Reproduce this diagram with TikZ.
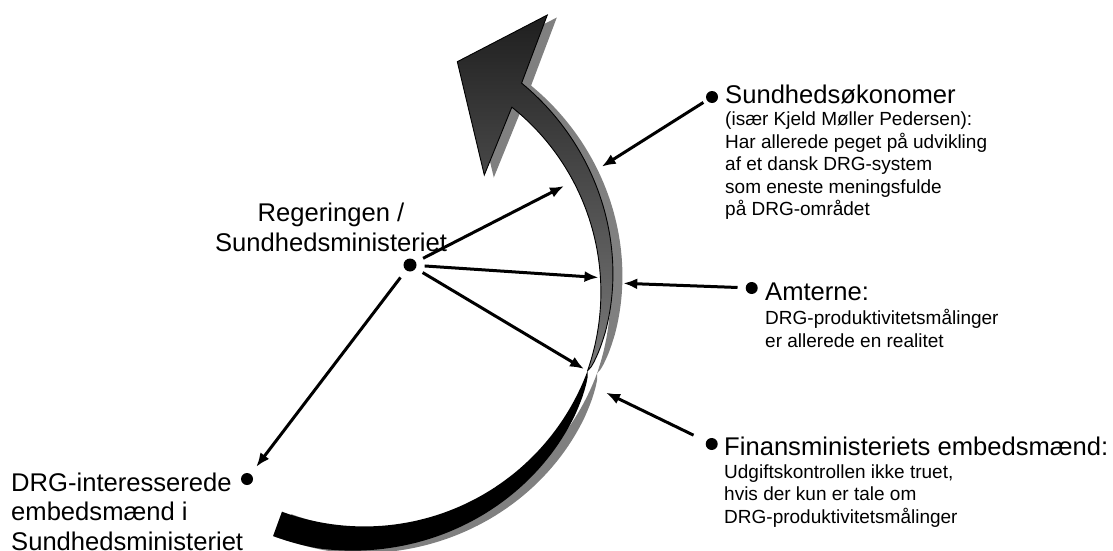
\documentclass[tikz,border=0pt]{standalone}
\usepackage{fontspec}
\setmainfont{Liberation Sans}
\usetikzlibrary{arrows.meta}

\begin{document}
\begin{tikzpicture}[x=1pt, y=-1pt,
    big/.style={font=\fontsize{25.6}{29.7}\selectfont, inner sep=0pt, align=left},
    small/.style={font=\fontsize{19}{22.5}\selectfont, inner sep=0pt, align=left},
    dot/.style={circle, fill=black, inner sep=0pt, minimum size=12pt},
    pil/.style={line width=3pt, -{Latex[length=14pt,width=11pt]}},
    forside/.style={draw=black, line width=0.9pt, top color=black!88, bottom color=black!52},
  ]
    \useasboundingbox (0,0) rectangle (1113,551);
    % ── buet pil: skygge ────────────────────────────────
    \begin{scope}[shift={(372.5,291.5)}]
        \fill[black!50] (-50.7:235) -- (121.3,-114) -- (94.3,-227.3) -- (184.3,-274) -- (-52.4:260)
            -- plot[domain=-52.4:20, samples=60] (\x:{235+4*(\x+50.7)/70.7+25*((20.001-\x)/72.4)^0.6})
            -- plot[domain=20:-50.7, samples=60] (\x:{235+4*(\x+50.7)/70.7}) -- cycle;
        \fill[black!50] plot[domain=20:110, samples=60] (\x:{239-2*(\x-20)/90})
            -- plot[domain=110:20, samples=60] (\x:{239-2*(\x-20)/90+26*min(1,(\x-19.999)/80)^0.6}) -- cycle;
    \end{scope}
    % ── buet pil: bagside og forside ────────────────────
    \begin{scope}[shift={(363,289)}]
        \fill[black] plot[domain=20:110, samples=60] (\x:{239-2*(\x-20)/90})
            -- plot[domain=110:20, samples=60] (\x:{239-2*(\x-20)/90+26*min(1,(\x-19.999)/80)^0.6}) -- cycle;
        \path[forside] (-50.7:235) -- (121.3,-114) -- (94.3,-227.3) -- (184.3,-274) -- (-52.4:260)
            -- plot[domain=-52.4:20, samples=60] (\x:{235+4*(\x+50.7)/70.7+25*((20.001-\x)/72.4)^0.6})
            -- plot[domain=20:-50.7, samples=60] (\x:{235+4*(\x+50.7)/70.7}) -- cycle;
    \end{scope}
    % ── aktører (base = sidste linjes grundlinje) ────────
    \node[dot, minimum size=13pt] (reg) at (410,265) {};
    \node[big, align=center, anchor=base] (regt) at (331,251) {Regeringen /\\Sundhedsministeriet};
    \node[dot] (drg) at (247,479) {};
    \node[big, anchor=base west] (drgt) at (11,550.4) {DRG-interesserede\\embedsmænd i\\Sundhedsministeriet};
    \node[dot] (sok) at (712,97) {};
    \node[big, anchor=base west] (sokt) at (725,103) {Sundhedsøkonomer};
    \node[small, anchor=base west] (sokb) at (725,215.5) {(især Kjeld Møller Pedersen):\\Har allerede peget på udvikling\\af et dansk DRG-system\\som eneste meningsfulde\\på DRG-området};
    \node[dot] (amt) at (751.7,288) {};
    \node[big, anchor=base west] (amtt) at (765,300) {Amterne:};
    \node[small, anchor=base west] (amtb) at (765,347) {DRG-produktivitetsmålinger\\er allerede en realitet};
    \node[dot] (fin) at (711.7,444) {};
    \node[big, anchor=base west] (fint) at (724,455) {Finansministeriets embedsmænd:};
    \node[small, anchor=base west] (finb) at (724,523) {Udgiftskontrollen ikke truet,\\hvis der kun er tale om\\DRG-produktivitetsmålinger};
    % pilenes endepunkter ved den buede pil
    \coordinate (pa) at (564,186);
    \coordinate (pb) at (598.5,277.5);
    \coordinate (pc) at (584,369);
    \coordinate (pe) at (601.7,166.7);
    \coordinate (pf) at (623.3,283.3);
    \coordinate (pg) at (606,392.7);
    % ── pile ─────────────────────────────────────────────
    \draw[pil, shorten <=8pt] (reg) -- (pa);
    \draw[pil, shorten <=8pt] (reg) -- (pb);
    \draw[pil, shorten <=8pt] (reg) -- (pc);
    \draw[pil, shorten <=9pt, shorten >=9pt] (reg) -- (drg);
    \draw[pil, shorten <=4pt] (sok) -- (pe);
    \draw[pil, shorten <=8pt] (amt) -- (pf);
    \draw[pil, shorten <=14pt] (fin) -- (pg);
\end{tikzpicture}
\end{document}
